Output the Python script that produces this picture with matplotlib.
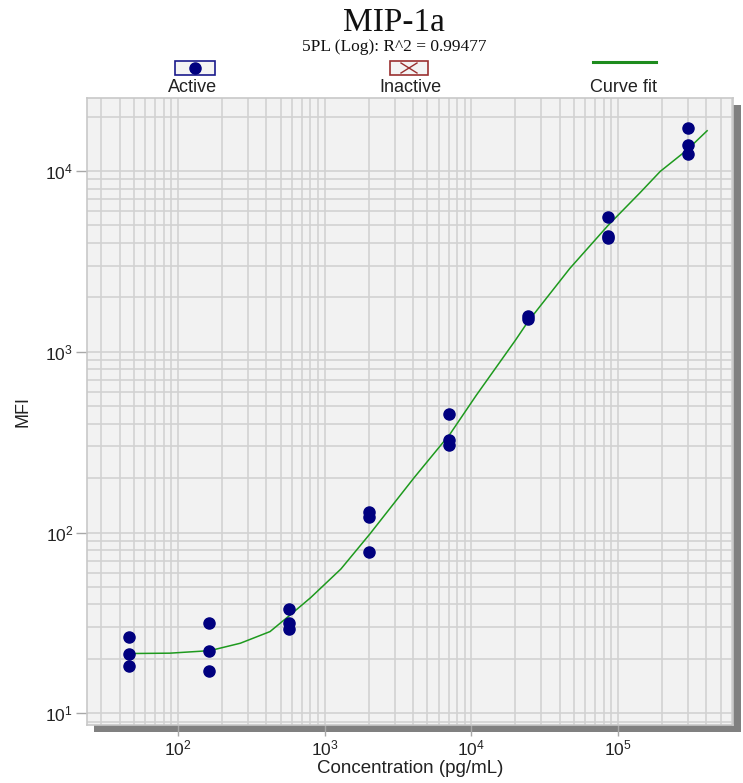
import matplotlib
matplotlib.use("Agg")
import matplotlib.pyplot as plt
from matplotlib.patches import Rectangle
from matplotlib.lines import Line2D

plt.rcParams['font.family'] = ['Liberation Sans', 'DejaVu Sans']
plt.rcParams['mathtext.fontset'] = 'custom'
plt.rcParams['mathtext.rm'] = 'Liberation Sans'
plt.rcParams['mathtext.it'] = 'Liberation Sans:italic'
plt.rcParams['mathtext.bf'] = 'Liberation Sans:bold'

# ---- data ----
conc = [46.6, 46.6, 46.6,
        163, 163, 163,
        571, 571, 571,
        2000, 2000, 2000,
        7000, 7000, 7000,
        24490, 24490,
        85700, 85700, 85700,
        300000, 300000, 300000]
mfi = [26.3, 21.4, 18.2,
       31.4, 22.2, 17.1,
       37.6, 31.4, 29.1,
       130, 122, 78,
       454, 324, 305,
       1520, 1580,
       5570, 4250, 4350,
       17400, 13900, 12400]

fit_conc = [46.9, 88, 165, 266, 424, 575, 802, 1290, 2030, 4070, 7180,
            10800, 20000, 24300, 46900, 85900, 141000, 194000, 295000, 405000]
fit_mfi = [21.4, 21.5, 22.2, 24.4, 28.3, 34.7, 43.6, 62.8, 98, 201, 352,
           574, 1160, 1466, 2890, 5020, 7570, 9950, 13060, 16700]

x_ticks = [1e2, 1e3, 1e4, 1e5]
x_tick_labels = [r'$\mathregular{10^{2}}$', r'$\mathregular{10^{3}}$',
                 r'$\mathregular{10^{4}}$', r'$\mathregular{10^{5}}$']
y_ticks = [1e1, 1e2, 1e3, 1e4]
y_tick_labels = [r'$\mathregular{10^{1}}$', r'$\mathregular{10^{2}}$',
                 r'$\mathregular{10^{3}}$', r'$\mathregular{10^{4}}$']

title = "MIP-1a"
subtitle = "5PL (Log): R^2 = 0.99477"
legend_labels = ["Active", "Inactive", "Curve fit"]

W, H = 743, 783
fig = plt.figure(figsize=(W / 100, H / 100), dpi=100)


def fx(px):
    return px / W


def fy(py):
    return 1 - py / H


# shadow behind the plot area
fig.add_artist(Rectangle((fx(94), fy(732)), fx(741) - fx(94), fy(105) - fy(732),
                         transform=fig.transFigure, facecolor='#808080',
                         edgecolor='none', zorder=0))

ax = fig.add_axes([fx(87), fy(725), fx(733) - fx(87), fy(98) - fy(725)])
ax.set_zorder(1)
ax.set_facecolor('#f2f2f2')
ax.set_xscale('log')
ax.set_yscale('log')
ax.set_xlim(23.97, 608000)
ax.set_ylim(8.61, 25350)
ax.set_axisbelow(True)
ax.grid(which='both', color='#d2d2d2', linewidth=1.2)
for s in ax.spines.values():
    s.set_color('#c8c8c8')
    s.set_linewidth(1.2)

ax.set_xticks(x_ticks)
ax.set_xticklabels(x_tick_labels)
ax.set_yticks(y_ticks)
ax.set_yticklabels(y_tick_labels)
ax.tick_params(which='major', direction='out', length=8, width=1,
               color='#a8a8a8', labelsize=12.5, labelcolor='#222222', pad=2)
ax.tick_params(which='minor', length=0)

ax.plot(fit_conc, fit_mfi, color='#1e9a1e', linewidth=1.1, zorder=3)
ax.plot(conc, mfi, linestyle='none', marker='o', markersize=8,
        color='#00007f', zorder=4)

ax.set_xlabel("Concentration (pg/mL)", fontsize=13.5, color='#222222', labelpad=1)
ax.set_ylabel("MFI", fontsize=13, color='#222222', labelpad=10)

# titles
fig.text(fx(394), fy(31), title, ha='center', va='baseline',
         family='Liberation Serif', fontsize=24, color='#111111')
fig.text(fx(394), fy(51), subtitle, ha='center', va='baseline',
         family='Liberation Serif', fontsize=12.5, color='#111111')

# legend
# Active
fig.add_artist(Rectangle((fx(175), fy(75)), fx(215) - fx(175), fy(61) - fy(75),
                         transform=fig.transFigure, facecolor='#f4f4f4',
                         edgecolor='#1a1a8c', linewidth=1.2))
fig.add_artist(Line2D([fx(195)], [fy(68)], marker='o', markersize=8,
                      color='#00007f', transform=fig.transFigure))
fig.text(fx(193), fy(92), legend_labels[0], ha='center', va='baseline',
         fontsize=13, color='#222222')
# Inactive
fig.add_artist(Rectangle((fx(390), fy(75)), fx(428) - fx(390), fy(61) - fy(75),
                         transform=fig.transFigure, facecolor='#f4f4f4',
                         edgecolor='#9a3030', linewidth=1.2))
fig.add_artist(Line2D([fx(401), fx(417)], [fy(63), fy(73)], color='#9a3030',
                      linewidth=1, transform=fig.transFigure))
fig.add_artist(Line2D([fx(401), fx(417)], [fy(73), fy(63)], color='#9a3030',
                      linewidth=1, transform=fig.transFigure))
fig.text(fx(410), fy(92), legend_labels[1], ha='center', va='baseline',
         fontsize=13, color='#222222')
# Curve fit
fig.add_artist(Line2D([fx(593), fx(656)], [fy(62), fy(62)], color='#1e8c1e',
                      linewidth=2.2, transform=fig.transFigure))
fig.text(fx(623), fy(92), legend_labels[2], ha='center', va='baseline',
         fontsize=13, color='#222222')

fig.savefig("out.png", dpi=100, facecolor='white')
